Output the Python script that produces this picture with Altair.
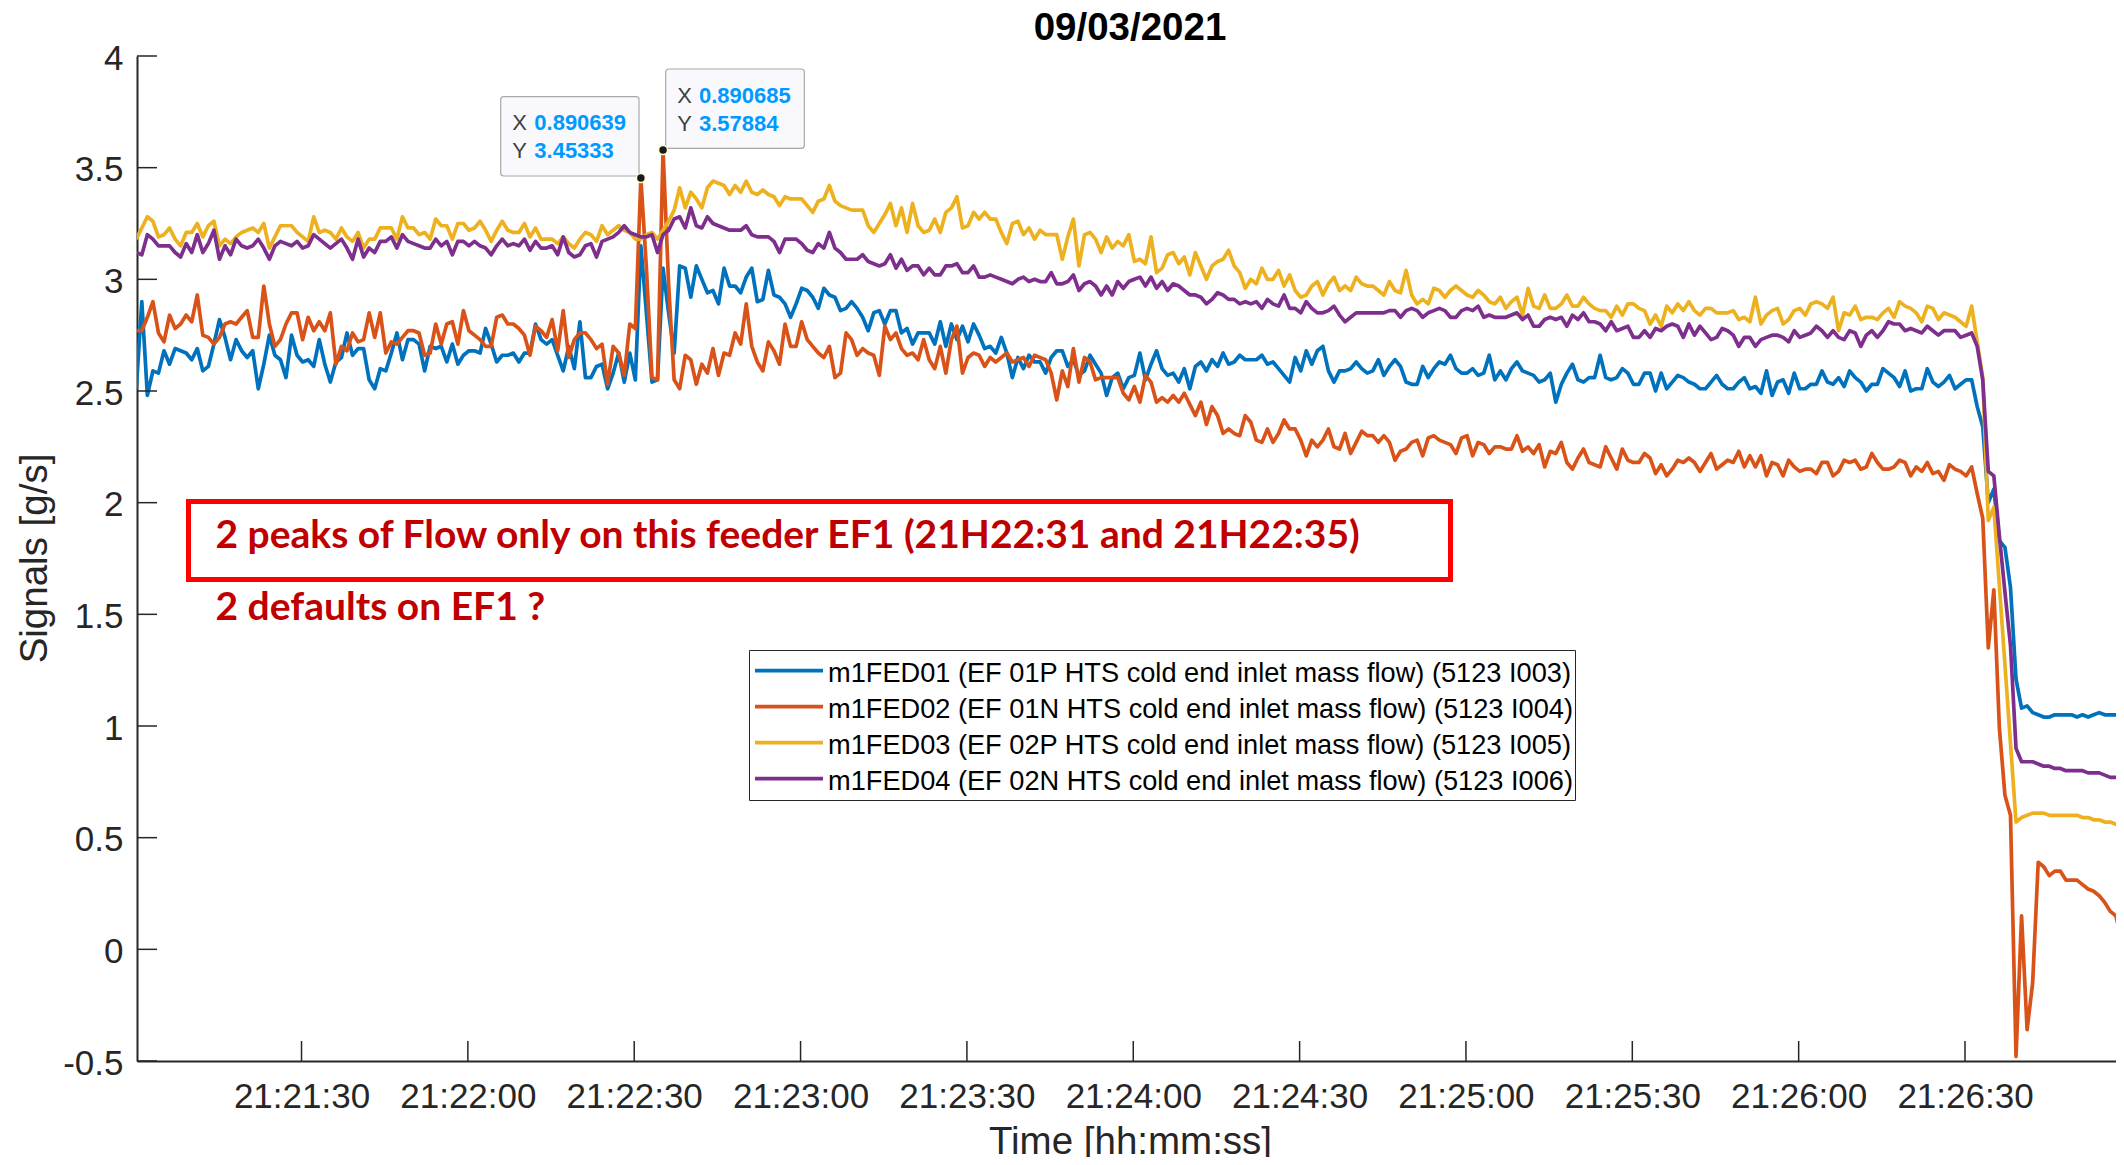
import altair as alt
import pandas as pd

# ---------------- data ----------------
SERIES = [
    "m1FED01 (EF 01P HTS cold end inlet mass flow) (5123 I003)",
    "m1FED02 (EF 01N HTS cold end inlet mass flow) (5123 I004)",
    "m1FED03 (EF 02P HTS cold end inlet mass flow) (5123 I005)",
    "m1FED04 (EF 02N HTS cold end inlet mass flow) (5123 I006)",
]
COLORS = ["#0072BD", "#D95319", "#EDB120", "#7E2F8E"]

FIRST_SAMPLE = "2021-03-09 21:21:00.200"   # one sample per second
N_SAMPLES = 360

FED01 = [
    2.51, 2.90, 2.48, 2.59, 2.58, 2.68, 2.62, 2.69, 2.68, 2.67,
    2.64, 2.69, 2.59, 2.61, 2.71, 2.82, 2.74, 2.64, 2.73, 2.68,
    2.65, 2.68, 2.51, 2.62, 2.75, 2.66, 2.64, 2.56, 2.75, 2.66,
    2.63, 2.64, 2.61, 2.73, 2.62, 2.54, 2.63, 2.65, 2.76, 2.66,
    2.69, 2.69, 2.55, 2.51, 2.60, 2.59, 2.67, 2.76, 2.64, 2.73,
    2.73, 2.71, 2.59, 2.70, 2.69, 2.70, 2.63, 2.71, 2.62, 2.66,
    2.68, 2.68, 2.67, 2.78, 2.71, 2.63, 2.66, 2.66, 2.67, 2.63,
    2.67, 2.67, 2.80, 2.73, 2.71, 2.73, 2.66, 2.59, 2.70, 2.60,
    2.81, 2.56, 2.56, 2.61, 2.62, 2.51, 2.58, 2.67, 2.54, 2.67,
    2.55, 3.15, 2.85, 2.54, 2.55, 3.05, 2.85, 2.67, 3.06, 3.05,
    2.92, 3.06, 3.00, 2.94, 2.95, 2.89, 3.05, 2.97, 2.97, 2.94,
    3.01, 3.05, 2.90, 2.91, 3.04, 2.93, 2.92, 2.89, 2.83, 2.89,
    2.96, 2.95, 2.92, 2.87, 2.96, 2.93, 2.92, 2.86, 2.87, 2.90,
    2.87, 2.83, 2.77, 2.85, 2.86, 2.80, 2.86, 2.86, 2.76, 2.78,
    2.71, 2.76, 2.76, 2.76, 2.71, 2.81, 2.70, 2.80, 2.73, 2.79,
    2.72, 2.80, 2.75, 2.69, 2.70, 2.67, 2.74, 2.67, 2.56, 2.65,
    2.60, 2.66, 2.63, 2.63, 2.58, 2.65, 2.68, 2.68, 2.61, 2.64,
    2.57, 2.59, 2.66, 2.62, 2.58, 2.48, 2.56, 2.58, 2.51, 2.56,
    2.57, 2.67, 2.55, 2.62, 2.68, 2.60, 2.57, 2.58, 2.54, 2.60,
    2.51, 2.61, 2.63, 2.59, 2.64, 2.61, 2.67, 2.62, 2.63, 2.66,
    2.64, 2.64, 2.64, 2.66, 2.62, 2.63, 2.60, 2.57, 2.54, 2.65,
    2.59, 2.68, 2.62, 2.68, 2.70, 2.59, 2.54, 2.59, 2.59, 2.60,
    2.63, 2.60, 2.58, 2.59, 2.64, 2.57, 2.61, 2.64, 2.61, 2.54,
    2.53, 2.53, 2.61, 2.56, 2.60, 2.63, 2.62, 2.66, 2.60, 2.58,
    2.58, 2.60, 2.57, 2.58, 2.66, 2.55, 2.59, 2.55, 2.60, 2.63,
    2.59, 2.58, 2.57, 2.54, 2.55, 2.58, 2.45, 2.53, 2.58, 2.62,
    2.55, 2.54, 2.56, 2.56, 2.66, 2.56, 2.55, 2.56, 2.60, 2.58,
    2.53, 2.53, 2.58, 2.58, 2.50, 2.58, 2.51, 2.54, 2.57, 2.56,
    2.54, 2.53, 2.51, 2.51, 2.54, 2.57, 2.53, 2.51, 2.51, 2.54,
    2.56, 2.51, 2.52, 2.49, 2.59, 2.48, 2.54, 2.55, 2.49, 2.58,
    2.51, 2.51, 2.53, 2.53, 2.59, 2.54, 2.53, 2.56, 2.52, 2.59,
    2.56, 2.54, 2.50, 2.53, 2.53, 2.60, 2.58, 2.56, 2.52, 2.59,
    2.50, 2.51, 2.51, 2.60, 2.54, 2.52, 2.54, 2.57, 2.51, 2.53,
    2.55, 2.55, 2.43, 2.34, 2.00, 2.06, 1.83, 1.80, 1.62, 1.21,
    1.08, 1.09, 1.06, 1.05, 1.04, 1.04, 1.05, 1.05, 1.05, 1.05,
    1.04, 1.05, 1.04, 1.05, 1.06, 1.05, 1.05, 1.05, 1.05, 1.05,
]

FED02 = [
    2.77, 2.77, 2.83, 2.90, 2.76, 2.72, 2.84, 2.78, 2.80, 2.84,
    2.81, 2.93, 2.75, 2.74, 2.71, 2.74, 2.80, 2.81, 2.80, 2.83,
    2.86, 2.74, 2.74, 2.97, 2.80, 2.70, 2.73, 2.80, 2.85, 2.85,
    2.73, 2.83, 2.77, 2.81, 2.77, 2.85, 2.62, 2.70, 2.68, 2.76,
    2.72, 2.73, 2.85, 2.74, 2.85, 2.67, 2.72, 2.71, 2.74, 2.77,
    2.77, 2.76, 2.66, 2.67, 2.80, 2.71, 2.80, 2.81, 2.71, 2.86,
    2.77, 2.75, 2.73, 2.70, 2.70, 2.83, 2.84, 2.80, 2.80, 2.78,
    2.75, 2.66, 2.79, 2.77, 2.74, 2.82, 2.68, 2.86, 2.65, 2.73,
    2.76, 2.76, 2.73, 2.69, 2.71, 2.53, 2.70, 2.67, 2.57, 2.80,
    2.78, 3.45333, 3.05, 2.56, 2.55, 3.57884, 2.98, 2.55, 2.51, 2.66,
    2.64, 2.53, 2.62, 2.58, 2.69, 2.57, 2.67, 2.66, 2.76, 2.71,
    2.89, 2.70, 2.63, 2.59, 2.72, 2.68, 2.62, 2.80, 2.70, 2.70,
    2.81, 2.73, 2.70, 2.67, 2.65, 2.70, 2.56, 2.58, 2.76, 2.73,
    2.66, 2.69, 2.67, 2.66, 2.57, 2.79, 2.73, 2.76, 2.69, 2.66,
    2.67, 2.64, 2.73, 2.64, 2.60, 2.70, 2.58, 2.73, 2.79, 2.58,
    2.65, 2.67, 2.66, 2.61, 2.65, 2.63, 2.65, 2.67, 2.63, 2.64,
    2.65, 2.61, 2.66, 2.65, 2.64, 2.58, 2.46, 2.59, 2.52, 2.69,
    2.54, 2.65, 2.63, 2.55, 2.56, 2.56, 2.56, 2.56, 2.49, 2.46,
    2.52, 2.45, 2.57, 2.54, 2.45, 2.47, 2.45, 2.48, 2.45, 2.49,
    2.44, 2.39, 2.45, 2.35, 2.43, 2.39, 2.31, 2.33, 2.31, 2.30,
    2.39, 2.36, 2.28, 2.27, 2.33, 2.27, 2.31, 2.37, 2.33, 2.33,
    2.28, 2.21, 2.28, 2.25, 2.28, 2.33, 2.25, 2.24, 2.31, 2.22,
    2.27, 2.32, 2.30, 2.30, 2.27, 2.30, 2.27, 2.19, 2.23, 2.24,
    2.27, 2.28, 2.21, 2.29, 2.30, 2.28, 2.27, 2.26, 2.22, 2.29,
    2.30, 2.21, 2.27, 2.26, 2.22, 2.25, 2.25, 2.24, 2.24, 2.30,
    2.23, 2.25, 2.22, 2.26, 2.16, 2.23, 2.22, 2.27, 2.18, 2.15,
    2.20, 2.24, 2.18, 2.17, 2.16, 2.25, 2.20, 2.15, 2.24, 2.19,
    2.18, 2.18, 2.22, 2.20, 2.13, 2.17, 2.12, 2.15, 2.19, 2.18,
    2.20, 2.18, 2.14, 2.18, 2.22, 2.15, 2.17, 2.19, 2.18, 2.23,
    2.16, 2.21, 2.16, 2.21, 2.12, 2.18, 2.17, 2.12, 2.19, 2.16,
    2.14, 2.15, 2.15, 2.13, 2.18, 2.18, 2.12, 2.14, 2.19, 2.18,
    2.19, 2.15, 2.16, 2.22, 2.18, 2.15, 2.15, 2.16, 2.19, 2.18,
    2.12, 2.16, 2.14, 2.18, 2.13, 2.14, 2.10, 2.17, 2.15, 2.14,
    2.12, 2.16, 2.04, 1.93, 1.35, 1.61, 0.99, 0.69, 0.60, -0.48,
    0.15, -0.36, -0.15, 0.39, 0.37, 0.33, 0.35, 0.35, 0.31, 0.31,
    0.31, 0.29, 0.27, 0.26, 0.24, 0.21, 0.17, 0.15, 0.05, 0.08,
]

FED03 = [
    3.18, 3.23, 3.28, 3.26, 3.19, 3.20, 3.23, 3.18, 3.15, 3.21,
    3.21, 3.25, 3.19, 3.24, 3.26, 3.15, 3.18, 3.16, 3.19, 3.21,
    3.22, 3.23, 3.21, 3.25, 3.14, 3.19, 3.24, 3.24, 3.24, 3.21,
    3.19, 3.17, 3.28, 3.21, 3.22, 3.21, 3.18, 3.23, 3.19, 3.17,
    3.21, 3.14, 3.18, 3.18, 3.23, 3.23, 3.23, 3.18, 3.28, 3.23,
    3.23, 3.20, 3.21, 3.18, 3.27, 3.24, 3.24, 3.18, 3.25, 3.25,
    3.22, 3.23, 3.26, 3.22, 3.17, 3.22, 3.26, 3.22, 3.21, 3.21,
    3.25, 3.19, 3.23, 3.18, 3.18, 3.18, 3.16, 3.19, 3.16, 3.14,
    3.18, 3.21, 3.20, 3.17, 3.24, 3.20, 3.22, 3.24, 3.22, 3.21,
    3.18, 3.18, 3.20, 3.21, 3.18, 3.22, 3.26, 3.31, 3.41, 3.32,
    3.39, 3.36, 3.32, 3.41, 3.44, 3.43, 3.42, 3.38, 3.42, 3.39,
    3.44, 3.39, 3.38, 3.40, 3.38, 3.37, 3.33, 3.37, 3.36, 3.36,
    3.36, 3.33, 3.30, 3.35, 3.36, 3.42, 3.35, 3.33, 3.32, 3.31,
    3.31, 3.31, 3.24, 3.21, 3.25, 3.29, 3.34, 3.24, 3.32, 3.21,
    3.34, 3.24, 3.21, 3.22, 3.27, 3.21, 3.30, 3.32, 3.37, 3.23,
    3.24, 3.30, 3.27, 3.30, 3.27, 3.27, 3.21, 3.16, 3.25, 3.26,
    3.20, 3.23, 3.18, 3.22, 3.20, 3.20, 3.20, 3.09, 3.19, 3.27,
    3.06, 3.20, 3.21, 3.18, 3.12, 3.19, 3.14, 3.17, 3.15, 3.20,
    3.08, 3.09, 3.07, 3.19, 3.03, 3.05, 3.11, 3.12, 3.07, 3.10,
    3.02, 3.12, 3.06, 3.00, 3.06, 3.08, 3.09, 3.13, 3.06, 3.03,
    2.96, 3.00, 2.98, 3.05, 3.00, 3.00, 3.04, 2.97, 3.02, 2.95,
    2.92, 2.93, 2.97, 2.99, 2.93, 2.98, 3.01, 2.95, 2.97, 2.95,
    3.01, 2.98, 2.97, 2.97, 2.95, 2.93, 2.99, 2.95, 2.94, 3.04,
    2.93, 2.89, 2.91, 2.89, 2.96, 2.95, 2.92, 2.95, 2.97, 2.95,
    2.93, 2.92, 2.95, 2.93, 2.90, 2.89, 2.92, 2.87, 2.90, 2.92,
    2.84, 2.96, 2.88, 2.87, 2.93, 2.87, 2.87, 2.89, 2.93, 2.88,
    2.88, 2.92, 2.89, 2.87, 2.86, 2.86, 2.83, 2.88, 2.84, 2.89,
    2.89, 2.87, 2.86, 2.80, 2.84, 2.79, 2.88, 2.85, 2.89, 2.86,
    2.90, 2.86, 2.84, 2.87, 2.87, 2.85, 2.85, 2.85, 2.86, 2.82,
    2.83, 2.81, 2.92, 2.80, 2.84, 2.86, 2.87, 2.80, 2.82, 2.86,
    2.87, 2.84, 2.89, 2.90, 2.89, 2.87, 2.92, 2.77, 2.85, 2.84,
    2.88, 2.82, 2.83, 2.83, 2.82, 2.85, 2.87, 2.83, 2.90, 2.88,
    2.87, 2.85, 2.81, 2.88, 2.87, 2.82, 2.85, 2.84, 2.83, 2.81,
    2.79, 2.88, 2.72, 2.56, 1.92, 1.98, None, None, None, 0.57,
    0.59, 0.60, 0.61, 0.61, 0.61, 0.60, 0.60, 0.60, 0.60, 0.60,
    0.60, 0.59, 0.59, 0.58, 0.58, 0.57, 0.57, 0.56, 0.56, 0.55,
]

FED04 = [
    3.12, 3.11, 3.20, 3.18, 3.15, 3.15, 3.15, 3.12, 3.10, 3.16,
    3.12, 3.20, 3.12, 3.16, 3.22, 3.09, 3.15, 3.11, 3.18, 3.15,
    3.14, 3.15, 3.18, 3.14, 3.09, 3.15, 3.17, 3.16, 3.15, 3.17,
    3.14, 3.15, 3.20, 3.18, 3.16, 3.14, 3.16, 3.18, 3.14, 3.09,
    3.18, 3.10, 3.14, 3.12, 3.17, 3.17, 3.19, 3.14, 3.20, 3.17,
    3.16, 3.15, 3.14, 3.14, 3.18, 3.15, 3.17, 3.11, 3.17, 3.17,
    3.15, 3.17, 3.15, 3.14, 3.11, 3.15, 3.18, 3.15, 3.16, 3.15,
    3.18, 3.13, 3.17, 3.14, 3.14, 3.15, 3.11, 3.19, 3.12, 3.10,
    3.11, 3.15, 3.16, 3.10, 3.17, 3.18, 3.19, 3.21, 3.24, 3.21,
    3.20, 3.19, 3.19, 3.20, 3.12, 3.20, 3.22, 3.27, 3.28, 3.23,
    3.32, 3.24, 3.23, 3.28, 3.25, 3.24, 3.23, 3.22, 3.22, 3.22,
    3.24, 3.20, 3.19, 3.19, 3.19, 3.17, 3.12, 3.18, 3.18, 3.18,
    3.16, 3.13, 3.12, 3.16, 3.14, 3.21, 3.14, 3.12, 3.09, 3.09,
    3.09, 3.11, 3.08, 3.07, 3.06, 3.07, 3.11, 3.05, 3.09, 3.04,
    3.06, 3.06, 3.02, 3.05, 3.02, 3.02, 3.06, 3.06, 3.07, 3.03,
    3.03, 3.06, 3.01, 3.01, 3.02, 3.01, 3.00, 2.99, 2.98, 3.00,
    3.01, 2.99, 3.00, 2.99, 2.99, 3.03, 2.98, 2.98, 2.99, 3.02,
    2.95, 2.98, 2.99, 2.97, 2.93, 2.97, 2.93, 2.99, 2.96, 2.99,
    3.00, 3.01, 2.97, 3.01, 2.96, 2.99, 2.95, 2.98, 2.97, 2.95,
    2.93, 2.93, 2.92, 2.89, 2.91, 2.94, 2.93, 2.91, 2.91, 2.89,
    2.90, 2.89, 2.90, 2.87, 2.91, 2.89, 2.88, 2.93, 2.87, 2.87,
    2.85, 2.90, 2.87, 2.85, 2.85, 2.86, 2.88, 2.84, 2.81, 2.83,
    2.85, 2.85, 2.85, 2.85, 2.85, 2.85, 2.86, 2.86, 2.83, 2.86,
    2.87, 2.86, 2.83, 2.85, 2.86, 2.87, 2.86, 2.83, 2.83, 2.86,
    2.87, 2.86, 2.88, 2.83, 2.84, 2.83, 2.83, 2.83, 2.84, 2.85,
    2.82, 2.84, 2.79, 2.79, 2.82, 2.83, 2.82, 2.83, 2.79, 2.84,
    2.82, 2.85, 2.81, 2.81, 2.80, 2.77, 2.81, 2.77, 2.78, 2.79,
    2.74, 2.74, 2.77, 2.74, 2.78, 2.77, 2.79, 2.80, 2.79, 2.74,
    2.80, 2.75, 2.79, 2.76, 2.73, 2.74, 2.78, 2.77, 2.75, 2.70,
    2.74, 2.74, 2.70, 2.73, 2.74, 2.75, 2.75, 2.74, 2.72, 2.77,
    2.74, 2.75, 2.76, 2.79, 2.77, 2.74, 2.77, 2.74, 2.73, 2.77,
    2.76, 2.70, 2.75, 2.77, 2.74, 2.77, 2.81, 2.80, 2.80, 2.77,
    2.78, 2.77, 2.76, 2.79, 2.77, 2.75, 2.77, 2.77, 2.77, 2.74,
    2.75, 2.76, 2.70, 2.55, 2.14, 2.12, 1.85, 1.60, 1.36, 0.90,
    0.84, 0.84, 0.84, 0.83, 0.82, 0.82, 0.81, 0.81, 0.80, 0.80,
    0.80, 0.80, 0.79, 0.79, 0.79, 0.78, 0.77, 0.77, 0.77, 0.77,
]

# x tick marks: minute / second of 21:xx:xx on 2021-03-09
X_TICK_MS = [(21, 30), (22, 0), (22, 30), (23, 0), (23, 30), (24, 0),
             (24, 30), (25, 0), (25, 30), (26, 0), (26, 30)]
Y_TICKS = [-0.5, 0, 0.5, 1, 1.5, 2, 2.5, 3, 3.5, 4]

TIP_SAMPLES = [91, 95]                 # data tips on m1FED02
TIP_X_TEXT = ["0.890639", "0.890685"]
TIP_Y_TEXT = ["3.45333", "3.57884"]

TITLE = "09/03/2021"
X_TITLE = "Time [hh:mm:ss]"
Y_TITLE = "Signals [g/s]"
NOTE_1 = "2 peaks of Flow only on this feeder EF1 (21H22:31 and 21H22:35)"
NOTE_2 = "2 defaults on EF1 ?"

# ---------------- tables ----------------
for arr in (FED01, FED02, FED03, FED04):
    assert len(arr) == N_SAMPLES, len(arr)

times = pd.date_range(FIRST_SAMPLE, periods=N_SAMPLES, freq="1s")
rows = []
for name, vals in zip(SERIES, [FED01, FED02, FED03, FED04]):
    for t, v in zip(times, vals):
        if v is not None:
            rows.append({"time": t, "value": v, "series": name})
df = pd.DataFrame(rows)

tips = pd.DataFrame({"time": [times[i] for i in TIP_SAMPLES],
                     "value": [FED02[i] for i in TIP_SAMPLES]})


def dt(m, s, ms=0):
    return alt.DateTime(year=2021, month=3, date=9, hours=21, minutes=m, seconds=s,
                        milliseconds=ms)


x_tick_values = [dt(m, s) for m, s in X_TICK_MS]
xticks = pd.DataFrame({"time": [pd.Timestamp(2021, 3, 9, 21, m, s) for m, s in X_TICK_MS]})
yticks = pd.DataFrame({"value": Y_TICKS})

# ---------------- layout / style ----------------
W, H = 1979, 1005
FONT = "Liberation Sans"
AX = "#262626"
TICK_LEN = 20

x_scale = alt.Scale(domain=[dt(21, 0, 330), dt(26, 57, 230)])
y_scale = alt.Scale(domain=[-0.5, 4], nice=False, zero=False)

x_axis = alt.Axis(format="%H:%M:%S", values=x_tick_values,
                  labelFont=FONT, labelFontSize=35, labelColor=AX, labelPadding=18,
                  ticks=False, grid=False, domainColor=AX, domainWidth=2,
                  title=X_TITLE, titleFont=FONT, titleFontSize=38.5,
                  titleFontWeight="normal", titleColor=AX, titleX=993, titleY=92,
                  titleAlign="center", titleBaseline="alphabetic")
y_axis = alt.Axis(values=Y_TICKS, labelExpr="datum.value + ''",
                  labelFont=FONT, labelFontSize=35, labelColor=AX, labelPadding=14,
                  labelOffset=2,
                  ticks=False, grid=False, domainColor=AX, domainWidth=2,
                  title=Y_TITLE, titleFont=FONT, titleFontSize=38.5,
                  titleFontWeight="normal", titleColor=AX, titleAngle=270,
                  titleX=-91, titleY=502, titleAlign="center", titleBaseline="alphabetic")

lines = alt.Chart(df).mark_line(strokeWidth=3.7, clip=True, strokeJoin="round").encode(
    x=alt.X("time:T", scale=x_scale, axis=x_axis),
    y=alt.Y("value:Q", scale=y_scale, axis=y_axis),
    color=alt.Color("series:N", scale=alt.Scale(domain=SERIES, range=COLORS),
                    sort=SERIES, legend=None),
)

# secondary layers share the scales and axes (same fields, same titles)
xtick_rules = alt.Chart(xticks).mark_rule(color=AX, strokeWidth=1.5).encode(
    x=alt.X("time:T", title=X_TITLE), y=alt.value(H - TICK_LEN), y2=alt.value(H))
ytick_rules = alt.Chart(yticks).mark_rule(color=AX, strokeWidth=1.5).encode(
    y=alt.Y("value:Q", title=Y_TITLE), x=alt.value(0), x2=alt.value(TICK_LEN))

one = alt.Data(values=[{"k": 0}])


def box(x0, x1, y0, y1, **kw):
    return alt.Chart(one).mark_rect(**kw).encode(
        x=alt.value(x0), x2=alt.value(x1), y=alt.value(y0), y2=alt.value(y1))


def label(txt, x, y, align="left", **kw):
    return alt.Chart(one).mark_text(align=align, baseline="alphabetic", text=txt, **kw).encode(
        x=alt.value(x), y=alt.value(y))


def seg(x0, x1, y, color, width):
    return alt.Chart(one).mark_rule(color=color, strokeWidth=width).encode(
        x=alt.value(x0), x2=alt.value(x1), y=alt.value(y))


title = label(TITLE, 993, -16, align="center", font=FONT, fontSize=38.5,
              fontWeight="bold", color="black")

# legend box (drawn in the plot's pixel frame)
LEG_X0, LEG_X1, LEG_Y0, LEG_Y1 = 612.5, 1438.5, 594.5, 744.5
LEG_ROW0, LEG_ROW_STEP = 614.7, 36.0
legend_layers = [box(LEG_X0, LEG_X1, LEG_Y0, LEG_Y1, fill="white", stroke=AX, strokeWidth=1)]
for i, (name, col) in enumerate(zip(SERIES, COLORS)):
    yy = LEG_ROW0 + i * LEG_ROW_STEP
    legend_layers += [
        seg(618, 686, yy, col, 3.7),
        label(name, 691, yy + 11.5, font=FONT, fontSize=27.2, color="black"),
    ]

NOTE_COLOR = "#C00000"
note_box = box(51.5, 1313.5, 445.5, 523.5, fill="white", fillOpacity=0,
               stroke="#FF0000", strokeWidth=5)
note1 = label(NOTE_1, 78.5, 492, font="Lato", fontWeight="bold", fontSize=39, color=NOTE_COLOR)
note2 = label(NOTE_2, 78.5, 564, font="Lato", fontWeight="bold", fontSize=39, color=NOTE_COLOR)

TIP_FILL, TIP_EDGE, TIP_BLUE, TIP_GRAY = "#F9F9FD", "#A8A8A8", "#0099FF", "#404040"
tip_layers = []
# (box x0, x1, y0, y1, label x, value x, row1 baseline, row2 baseline)
TIP_BOXES = [(363.7, 502.0, 40.7, 120.0, 375.3, 397.3, 74.0, 102.3),
             (528.7, 667.3, 13.0, 92.3, 540.3, 562.0, 47.3, 75.0)]
for (bx0, bx1, by0, by1, lx, vx, r1, r2), xt, yt in zip(TIP_BOXES, TIP_X_TEXT, TIP_Y_TEXT):
    tip_layers += [
        box(bx0, bx1, by0, by1, fill=TIP_FILL, stroke=TIP_EDGE, strokeWidth=1.2, cornerRadius=3),
        label("X", lx, r1, font=FONT, fontSize=22, color=TIP_GRAY),
        label("Y", lx, r2, font=FONT, fontSize=22, color=TIP_GRAY),
        label(xt, vx, r1, font=FONT, fontSize=22, fontWeight="bold", color=TIP_BLUE),
        label(yt, vx, r2, font=FONT, fontSize=22, fontWeight="bold", color=TIP_BLUE),
    ]

tip_points = alt.Chart(tips).mark_circle(size=80, color="#1A1A1A", opacity=1,
                                         stroke="#FFFFC8", strokeWidth=1.5).encode(
    x=alt.X("time:T", title=X_TITLE), y=alt.Y("value:Q", title=Y_TITLE))

chart = alt.layer(
    lines, xtick_rules, ytick_rules, note_box, note1, note2, title,
    *legend_layers, *tip_layers, tip_points
).properties(
    width=W, height=H,
    padding={"left": 129, "top": 48, "right": 0, "bottom": 96},
    autosize=alt.AutoSizeParams(type="none"),
).configure_view(stroke="transparent")

chart.save("out.html", embed_options={"renderer": "svg", "actions": False})
